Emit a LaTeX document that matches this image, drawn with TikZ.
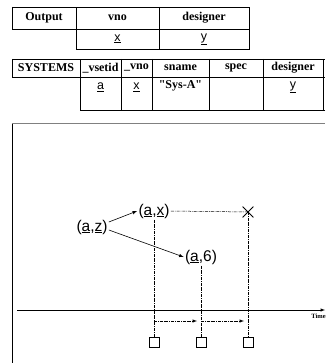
\documentclass[tikz,border=0pt]{standalone}
\usepackage{fontspec}
\setmainfont{Liberation Serif}[Ligatures=TeXOff]
\setsansfont{Liberation Sans}
\usetikzlibrary{calc,positioning,arrows,shapes,shapes.misc}

\tikzset{
  hdr/.style={font=\bfseries\fontsize{12}{12}\selectfont, inner sep=0pt},
  var/.style={font=\sffamily\fontsize{12.5}{12}\selectfont, inner sep=0pt},
  tpl/.style={font=\sffamily\fontsize{15.5}{16}\selectfont, inner sep=1pt},
  guide/.style={densely dashdotted, line width=0.5pt},
  tickbox/.style={draw, minimum size=10pt, inner sep=0pt, line width=0.7pt},
}
\newcommand{\uv}[1]{\underline{#1}}

\begin{document}
\begin{tikzpicture}[x=1pt,y=-1pt,line width=0.7pt]
\useasboundingbox (0,0) rectangle (325,363);
% Output table
\draw (12,7) -- (249,7) -- (249,49) -- (76,49) -- (76,7);
\draw (12,7) -- (12,29) -- (249,29);
\draw (159,7) -- (159,49);
\node[hdr] (out) at (44,18) {Output};
\node[hdr] (outvno) at (117.5,18) {vno};
\node[hdr] (outdes) at (204,18) {designer};
\node[var] (outx) at (117.5,39) {\uv{x}};
\node[var] (outy) at (204,39) {\uv{y}};
% SYSTEMS table
\draw (12,59) -- (325,59);
\draw (325,110) -- (80,110) -- (80,59);
\draw (12,59) -- (12,77) -- (325,77);
\draw (121,59) -- (121,110);
\draw (152,59) -- (152,110);
\draw (209,59) -- (209,110);
\draw (263,59) -- (263,110);
\draw (323,59) -- (323,110);
\node[hdr] (sys) at (46,68) {SYSTEMS};
\node[hdr] (sysvset) at (100.5,68) {\_vsetid};
\node[hdr] (sysvno) at (136.5,68) {\_vno};
\node[hdr] (sysname) at (180.5,68) {sname};
\node[hdr] (sysspec) at (236,68) {spec};
\node[hdr] (sysdes) at (293,68) {designer};
\node[var] (sysa) at (100.5,87) {\uv{a}};
\node[var] (sysx) at (136.5,87) {\uv{x}};
\node[hdr] (sysval) at (180.5,86) {"Sys-A"};
\node[var] (sysy) at (293,87) {\uv{y}};
% frame
\draw[line width=0.5pt] (12,363) -- (12,123);
\draw[line width=0.5pt, gray] (12,123) -- (325,123);
% versions
\node[tpl] (az) at (92,227) {(\uv{a},\uv{z})};
\node[tpl] (ax) at (154,211) {(\uv{a},\uv{x})};
\node[tpl] (a6) at (201,257) {(\uv{a},6)};
\node[draw, cross out, minimum size=10pt, inner sep=0pt, line width=0.8pt] (kill) at (248,212) {};
\draw[-latex, line width=0.6pt] ([yshift=5pt]az.east) -- (ax.west);
\draw[-latex, line width=0.6pt] ([yshift=-3pt]az.east) -- (a6.west);
\draw[guide] (ax.east) -- (kill.center);
% boxes
\node[tickbox] (b1) at (154,342) {};
\node[tickbox] (b2) at (201,342) {};
\node[tickbox] (b3) at (248,342) {};
\draw[guide] (ax.south) -- (b1.north);
\draw[guide] (a6.south) -- (b2.north);
\draw[guide] (kill.center) -- (b3.north);
% time axis
\coordinate (t0) at (17,310);
\coordinate (t1) at (325,310);
\draw[-latex, line width=0.5pt] (t0) -- (t1);
\node[font=\bfseries\fontsize{6.5}{6}\selectfont, anchor=north west, inner sep=0pt] (time) at (311,314) {Time};
\coordinate (i1) at (154,321);
\coordinate (i2) at (197,321);
\coordinate (i3) at (201,321);
\coordinate (i4) at (244,321);
\draw[guide, -latex] (i1) -- (i2);
\draw[guide, -latex] (i3) -- (i4);
\end{tikzpicture}
\end{document}
